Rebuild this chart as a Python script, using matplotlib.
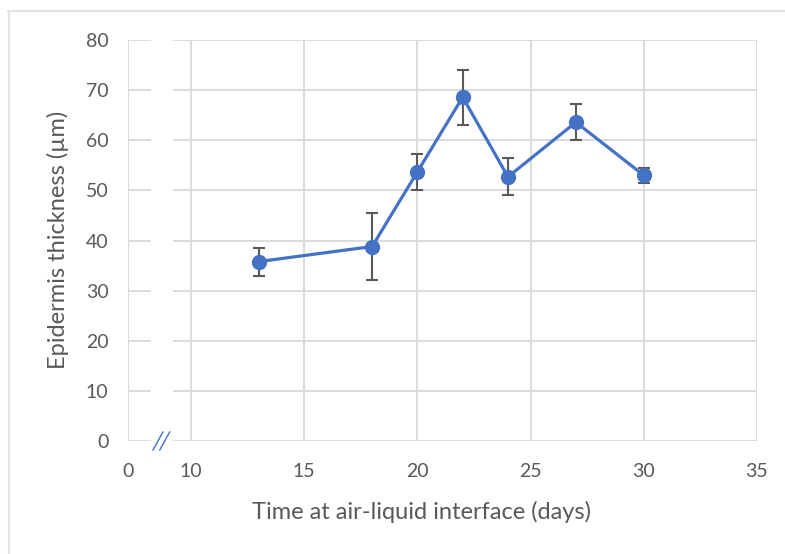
import matplotlib.pyplot as plt
from matplotlib.lines import Line2D

# data
days = [13, 18, 20, 22, 24, 27, 30]
thickness = [35.8, 38.8, 53.7, 68.6, 52.7, 63.6, 53.0]
err = [2.8, 6.6, 3.6, 5.5, 3.7, 3.6, 1.5]

x_ticks = [10, 15, 20, 25, 30, 35]
y_ticks = [0, 10, 20, 30, 40, 50, 60, 70, 80]

blue = '#4472C4'
grid_c = '#d9d9d9'
text_c = '#595959'
fam = ['Lato', 'DejaVu Sans']

W, H = 785, 554
fig = plt.figure(figsize=(W / 100, H / 100), dpi=100)
fig.patch.set_facecolor('white')

# plot area in pixels
left, right, top, bottom = 128, 757, 40, 441
ax = fig.add_axes([left / W, 1 - bottom / H, (right - left) / W, (bottom - top) / H])

px_per_unit = (right - 191) / 25.0
x0 = 10 - (191 - left) / px_per_unit  # where the "0" label sits (axis break)
gap_lo = 10 - (191 - 151) / px_per_unit
gap_hi = 10 - (191 - 173) / px_per_unit

ax.set_xlim(x0, 35)
ax.set_ylim(0, 80)
for s in ax.spines.values():
    s.set_visible(False)
ax.tick_params(length=0, colors=text_c, labelsize=14)
ax.tick_params(axis='x', pad=16)
ax.tick_params(axis='y', pad=14)

ax.set_xticks([x0] + x_ticks)
ax.set_xticklabels(['0'] + [str(t) for t in x_ticks])
ax.set_yticks(y_ticks)
ax.set_yticklabels([str(t) for t in y_ticks])

# gridlines with a gap at the axis break
for y in y_ticks:
    ax.hlines(y, x0, gap_lo, color=grid_c, lw=1.3, zorder=1)
    ax.hlines(y, gap_hi, 35, color=grid_c, lw=1.3, zorder=1)
for x in [x0] + x_ticks:
    ax.vlines(x, 0, 80, color=grid_c, lw=1.3, zorder=1)

# break marks
ax.plot([8.32, 8.76], [-1.8, 1.8], color=blue, lw=1, clip_on=False, zorder=3)
ax.plot([8.62, 9.06], [-1.8, 1.8], color=blue, lw=1, clip_on=False, zorder=3)

ax.errorbar(days, thickness, yerr=err, color=blue, lw=2.3, marker='o', ms=10,
            ecolor=text_c, elinewidth=1.5, capsize=4.5, capthick=1.5, zorder=4)

fig.text(421 / W, 1 - 512 / H, 'Time at air-liquid interface (days)', ha='center',
         va='center', fontsize=17, color=text_c)
fig.text(58 / W, 1 - 240 / H, 'Epidermis thickness (µm)', ha='center', va='center',
         rotation=90, fontsize=17, color=text_c)

# light frame around the picture
fig.add_artist(Line2D([8 / W, 1], [1 - 11 / H, 1 - 11 / H], color='#e3e3e3', lw=1.5))
fig.add_artist(Line2D([9 / W, 9 / W], [0, 1 - 11 / H], color='#e3e3e3', lw=1.5))

for t in fig.findobj(plt.Text):
    t.set_family(fam)

fig.savefig('out.png', dpi=100)
